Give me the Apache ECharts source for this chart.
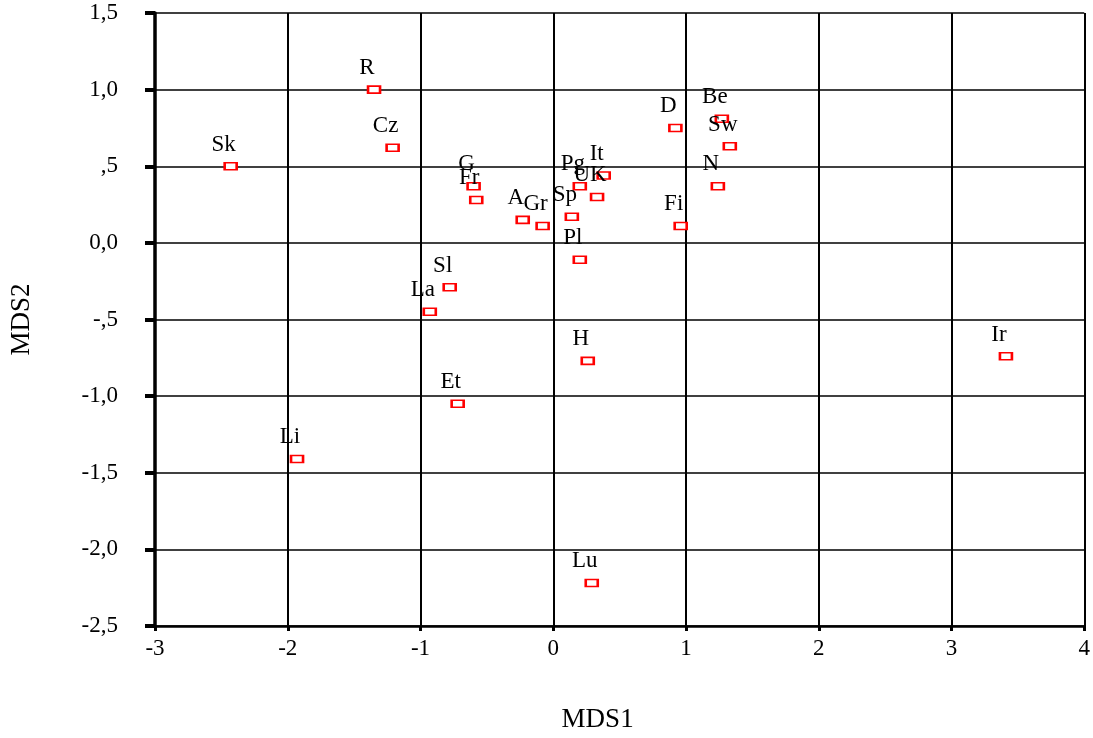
<!DOCTYPE html>
<html>
<head>
<meta charset="utf-8">
<script src="https://cdn.jsdelivr.net/npm/echarts@6/dist/echarts.min.js"></script>
<style>
  html, body { margin: 0; padding: 0; background: #fff; }
  #chart { width: 1093px; height: 738px; }
</style>
</head>
<body>
<div id="chart"></div>
<script>
const countries = ["Sk", "R", "Cz", "G", "Fr", "A", "Gr", "Sp", "Pg", "UK", "It", "Pl", "Fi", "D", "Be", "Sw", "N", "Sl", "La", "H", "Et", "Li", "Lu", "Ir"];
const mds1 = [-2.43, -1.35, -1.21, -0.60, -0.58, -0.23, -0.08, 0.14, 0.20, 0.33, 0.38, 0.20, 0.96, 0.92, 1.27, 1.33, 1.24, -0.78, -0.93, 0.26, -0.72, -1.93, 0.29, 3.41];
const mds2 = [0.50, 1.00, 0.62, 0.37, 0.28, 0.15, 0.11, 0.17, 0.37, 0.30, 0.44, -0.11, 0.11, 0.75, 0.81, 0.63, 0.37, -0.29, -0.45, -0.77, -1.05, -1.41, -2.22, -0.74];
const xTicks = [-3, -2, -1, 0, 1, 2, 3, 4];
const yTickLabels = { "1.5": "1,5", "1": "1,0", "0.5": ",5", "0": "0,0", "-0.5": "-,5", "-1": "-1,0", "-1.5": "-1,5", "-2": "-2,0", "-2.5": "-2,5" };

const font = "'Liberation Serif', 'Times New Roman', serif";
const points = countries.map((c, i) => ({ name: c, value: [mds1[i], mds2[i]] }));

const chart = echarts.init(document.getElementById("chart"));
chart.setOption({
  backgroundColor: "#fff",
  animation: false,
  grid: { left: 153, right: 5, top: 13, bottom: 110, containLabel: false },
  xAxis: {
    type: "value",
    min: xTicks[0],
    max: xTicks[xTicks.length - 1],
    interval: 1,
    name: "MDS1",
    nameLocation: "middle",
    nameGap: 80,
    nameTextStyle: { fontFamily: font, fontSize: 27, color: "#000", padding: [0, 44, 0, 0] },
    axisLine: { show: true, onZero: false, lineStyle: { color: "#000", width: 2.5 } },
    axisTick: { show: true, length: 5, lineStyle: { color: "#000", width: 3 } },
    axisLabel: { fontFamily: font, fontSize: 23, color: "#000", margin: 11 },
    splitLine: { show: true, lineStyle: { color: "#000", width: 2 } },
  },
  yAxis: {
    type: "value",
    min: -2.5,
    max: 1.5,
    interval: 0.5,
    name: "MDS2",
    nameLocation: "middle",
    nameGap: 120,
    nameTextStyle: { fontFamily: font, fontSize: 27, color: "#000" },
    axisLine: { show: true, onZero: false, lineStyle: { color: "#000", width: 3.5 } },
    axisTick: { show: true, length: 10, lineStyle: { color: "#000", width: 4 } },
    axisLabel: {
      fontFamily: font, fontSize: 23, color: "#000", margin: 37,
      formatter: (v) => yTickLabels[String(v)] ?? String(v),
    },
    splitLine: { show: true, lineStyle: { color: "#000", width: 1.5 } },
  },
  series: [{
    type: "scatter",
    data: points,
    symbol: "rect",
    symbolSize: [12, 7],
    itemStyle: { color: "#fff", borderColor: "#ff0000", borderWidth: 2, opacity: 1 },
    label: {
      show: true,
      position: "top",
      distance: 6,
      offset: [-7, 0],
      formatter: (p) => p.name,
      fontFamily: font,
      fontSize: 23,
      color: "#000",
    },
  }],
});
</script>
</body>
</html>
